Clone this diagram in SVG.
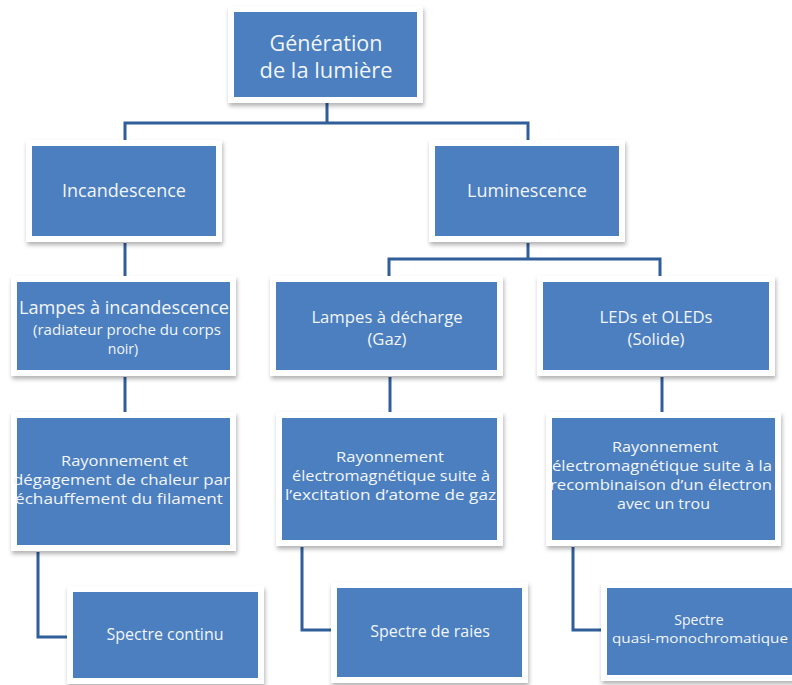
<svg xmlns="http://www.w3.org/2000/svg" width="792" height="685" viewBox="0 0 792 685">
  <defs>
    <filter id="shadow" x="-10%" y="-10%" width="120%" height="130%">
      <feDropShadow dx="1" dy="3" stdDeviation="2" flood-color="#000" flood-opacity="0.3"/>
    </filter>
  </defs>
  <style>
    .frame { fill: #ffffff; filter: url(#shadow); }
    .box { fill: #4b7fbf; }
    .lbl { font-family: "Open Sans", "Liberation Sans", sans-serif; fill: #f2f5fa; text-anchor: middle; font-size: 15px; }
    .big { font-size: 21px; }
    .mid { font-size: 18px; }
    .sub { font-size: 16.7px; }
    .sm { font-size: 14px; }
    .spec { font-size: 16px; }
    .tiny { font-size: 13px; }
    .conn { fill: none; stroke: #2f5e99; stroke-width: 3; }
  </style>
  <rect width="792" height="685" fill="#ffffff"/>

  <!-- connectors -->
  <g id="connectors">
    <path class="conn" d="M327 103 V123 M125 140 V123 H528 V140"/>
    <path class="conn" d="M125 243 V276"/>
    <path class="conn" d="M528 243 V259 M389 276 V259 H660 V276"/>
    <path class="conn" d="M125 377 V412"/>
    <path class="conn" d="M390 377 V412"/>
    <path class="conn" d="M662 377 V412"/>
    <path class="conn" d="M38 552 V637 H67"/>
    <path class="conn" d="M302 547 V630 H331"/>
    <path class="conn" d="M573 547 V630 H601"/>
  </g>

  <!-- level 0 -->
  <g id="generation">
    <rect class="frame" x="228" y="6" width="195" height="97"/>
    <rect class="box" x="234" y="12" width="183" height="85"/>
    <text class="lbl big" x="326" y="51" textLength="113" lengthAdjust="spacingAndGlyphs">Génération</text>
    <text class="lbl big" x="326" y="78" textLength="133" lengthAdjust="spacingAndGlyphs">de la lumière</text>
  </g>

  <!-- level 1 -->
  <g id="incandescence">
    <rect class="frame" x="26" y="140" width="196" height="102"/>
    <rect class="box" x="32" y="146" width="184" height="90"/>
    <text class="lbl mid" x="124" y="197">Incandescence</text>
  </g>
  <g id="luminescence">
    <rect class="frame" x="429" y="140" width="196" height="102"/>
    <rect class="box" x="435" y="146" width="184" height="90"/>
    <text class="lbl mid" x="527" y="197">Luminescence</text>
  </g>

  <!-- level 2 -->
  <g id="lampes-incandescence">
    <rect class="frame" x="11" y="276" width="225" height="100"/>
    <rect class="box" x="17" y="282" width="213" height="88"/>
    <text class="lbl mid" x="124" y="314" textLength="210" lengthAdjust="spacingAndGlyphs">Lampes à incandescence</text>
    <text class="lbl sm" x="127" y="335" textLength="188" lengthAdjust="spacingAndGlyphs">(radiateur proche du corps</text>
    <text class="lbl sm" x="123" y="354">noir)</text>
  </g>
  <g id="lampes-decharge">
    <rect class="frame" x="270" y="276" width="233" height="100"/>
    <rect class="box" x="276" y="282" width="221" height="88"/>
    <text class="lbl sub" x="387" y="323">Lampes à décharge</text>
    <text class="lbl sub" x="387" y="345">(Gaz)</text>
  </g>
  <g id="leds">
    <rect class="frame" x="537" y="276" width="238" height="100"/>
    <rect class="box" x="543" y="282" width="226" height="88"/>
    <text class="lbl sub" x="656" y="323">LEDs et OLEDs</text>
    <text class="lbl sub" x="656" y="345">(Solide)</text>
  </g>

  <!-- level 3 -->
  <g id="rayonnement-chaleur">
    <rect class="frame" x="11" y="412" width="225" height="139"/>
    <rect class="box" x="17" y="418" width="213" height="127"/>
    <text class="lbl" x="124.5" y="466" textLength="127" lengthAdjust="spacingAndGlyphs">Rayonnement et</text>
    <text class="lbl" x="121.5" y="485" textLength="217" lengthAdjust="spacingAndGlyphs">dégagement de chaleur par</text>
    <text class="lbl" x="119" y="504" textLength="208" lengthAdjust="spacingAndGlyphs">échauffement du filament</text>
  </g>
  <g id="rayonnement-gaz">
    <rect class="frame" x="276" y="412" width="227" height="134"/>
    <rect class="box" x="282" y="418" width="215" height="122"/>
    <text class="lbl" x="390" y="462" textLength="108" lengthAdjust="spacingAndGlyphs">Rayonnement</text>
    <text class="lbl" x="391" y="481" textLength="198" lengthAdjust="spacingAndGlyphs">électromagnétique suite à</text>
    <text class="lbl" x="390.5" y="500" textLength="211" lengthAdjust="spacingAndGlyphs">l’excitation d’atome de gaz</text>
  </g>
  <g id="rayonnement-trou">
    <rect class="frame" x="546" y="412" width="235" height="134"/>
    <rect class="box" x="552" y="418" width="223" height="122"/>
    <text class="lbl" x="665" y="452" textLength="106" lengthAdjust="spacingAndGlyphs">Rayonnement</text>
    <text class="lbl" x="662" y="471" textLength="220" lengthAdjust="spacingAndGlyphs">électromagnétique suite à la</text>
    <text class="lbl" x="661" y="490" textLength="222" lengthAdjust="spacingAndGlyphs">recombinaison d’un électron</text>
    <text class="lbl" x="663.5" y="509" textLength="93" lengthAdjust="spacingAndGlyphs">avec un trou</text>
  </g>

  <!-- level 4 -->
  <g id="spectre-continu">
    <rect class="frame" x="67" y="586" width="197" height="98"/>
    <rect class="box" x="73" y="592" width="185" height="86"/>
    <text class="lbl spec" x="165" y="640">Spectre continu</text>
  </g>
  <g id="spectre-raies">
    <rect class="frame" x="331" y="582" width="197" height="101"/>
    <rect class="box" x="337" y="588" width="185" height="89"/>
    <text class="lbl spec" x="430" y="637">Spectre de raies</text>
  </g>
  <g id="spectre-quasi">
    <rect class="frame" x="601" y="582" width="197" height="99"/>
    <rect class="box" x="607" y="588" width="185" height="87"/>
    <text class="lbl sm" x="699" y="625">Spectre</text>
    <text class="lbl tiny" x="700" y="642.5" textLength="176" lengthAdjust="spacingAndGlyphs">quasi-monochromatique</text>
  </g>
</svg>
